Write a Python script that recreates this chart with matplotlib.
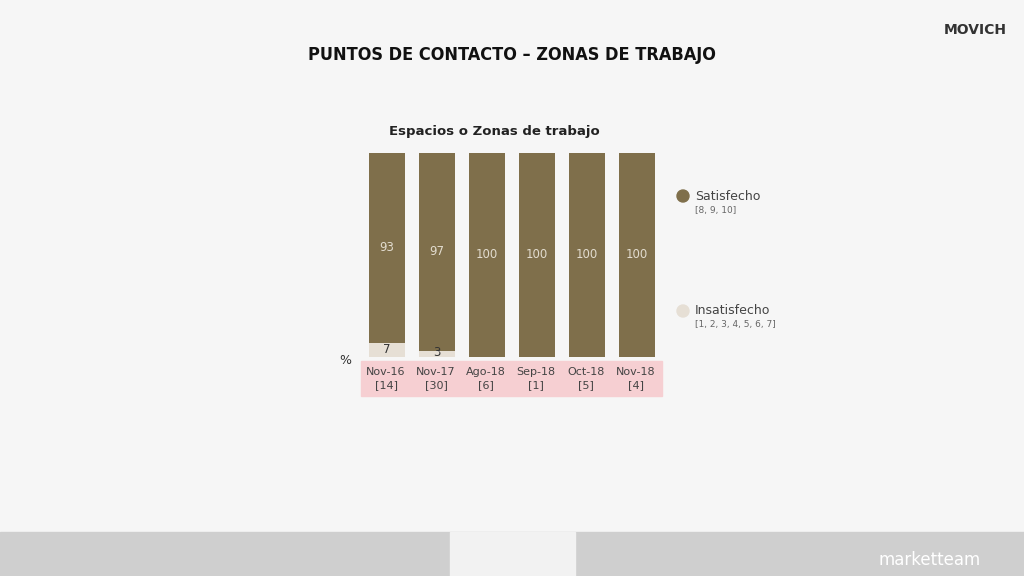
import matplotlib
matplotlib.use("Agg")
import matplotlib.pyplot as plt
from matplotlib.patches import Rectangle, Circle

periods = ["Nov-16", "Nov-17", "Ago-18", "Sep-18", "Oct-18", "Nov-18"]
bases = ["[14]", "[30]", "[6]", "[1]", "[5]", "[4]"]
satisfecho = [93, 97, 100, 100, 100, 100]
insatisfecho = [7, 3, 0, 0, 0, 0]

BROWN = "#7f6f4b"
LIGHT = "#e6dfd5"
W, H = 1024, 576

fig = plt.figure(figsize=(W / 100, H / 100), dpi=100)
fig.patch.set_facecolor("#f6f6f6")

# background / decoration layer in pixel coords
bg = fig.add_axes([0, 0, 1, 1])
bg.set_xlim(0, W)
bg.set_ylim(H, 0)
bg.axis("off")
bg.add_patch(Rectangle((0, 532), W, 44, color="#cfcfcf"))
bg.add_patch(Rectangle((450, 532), 125, 44, color="#f2f2f2"))
bg.add_patch(Rectangle((361, 361), 301, 35, color="#f6cfd2"))
bg.text(512, 55, "PUNTOS DE CONTACTO – ZONAS DE TRABAJO", ha="center", va="center",
        fontsize=13, fontweight="bold", fontstretch="condensed", color="#111111")
bg.text(494, 132, "Espacios o Zonas de trabajo", ha="center", va="center",
        fontsize=9.5, fontweight="bold", color="#222222")
bg.text(345, 360, "%", ha="center", va="center", fontsize=9, color="#333333")
bg.text(975, 30, "MOVICH", ha="center", va="center", fontsize=10, fontweight="bold", color="#333333")
bg.text(930, 560, "marketteam", ha="center", va="center", fontsize=12, color="white")
bg.add_patch(Circle((683, 196), 6, color=BROWN))
bg.text(695, 196, "Satisfecho", va="center", fontsize=9, color="#444444")
bg.text(695, 210, "[8, 9, 10]", va="center", fontsize=6.5, color="#666666")
bg.add_patch(Circle((683, 311), 6, color=LIGHT))
bg.text(695, 311, "Insatisfecho", va="center", fontsize=9, color="#444444")
bg.text(695, 325, "[1, 2, 3, 4, 5, 6, 7]", va="center", fontsize=6.5, color="#666666")
for i, (p, b) in enumerate(zip(periods, bases)):
    x = 386 + 50 * i
    bg.text(x, 372, p, ha="center", va="center", fontsize=8, color="#444444")
    bg.text(x, 385, b, ha="center", va="center", fontsize=8, color="#444444")

# chart axes
ax = fig.add_axes([361 / W, 1 - 357 / H, 301 / W, 204 / H])
ax.patch.set_alpha(0)
x = list(range(len(periods)))
ax.bar(x, insatisfecho, width=0.72, color=LIGHT)
ax.bar(x, satisfecho, width=0.72, bottom=insatisfecho, color=BROWN)
ax.set_xlim(-0.51, 5.51)
ax.set_ylim(0, 100)
ax.axis("off")
for i in x:
    ax.text(i, insatisfecho[i] + satisfecho[i] / 2, str(satisfecho[i]), ha="center",
            va="center", fontsize=8.5, color="#e2dccf")
    if insatisfecho[i]:
        ax.text(i, max(insatisfecho[i] / 2, 2), str(insatisfecho[i]), ha="center",
                va="center", fontsize=8.5, color="#333333")

fig.savefig("out.png", dpi=100)
